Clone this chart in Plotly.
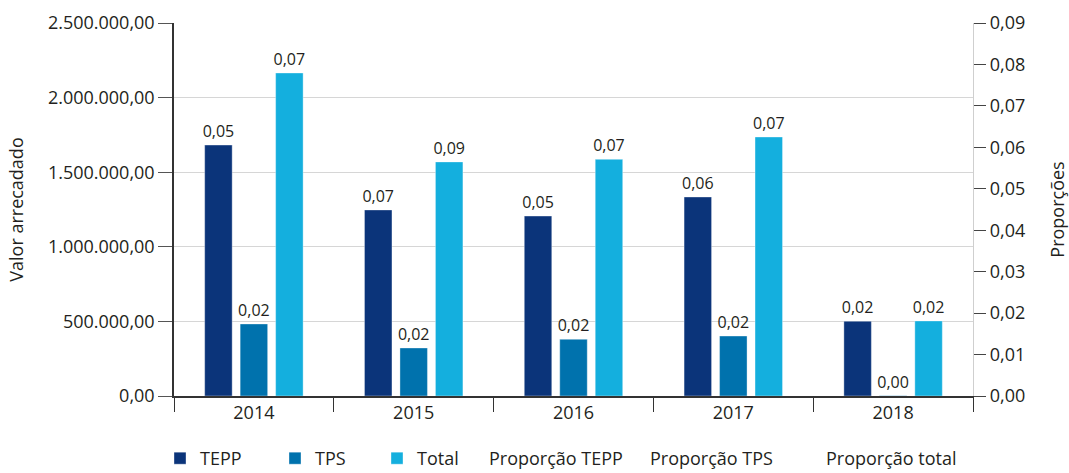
import plotly.graph_objects as go

# Dados: valor arrecadado por ano e proporções correspondentes
anos = ["2014", "2015", "2016", "2017", "2018"]
valor_tepp = [1682000, 1247000, 1206000, 1334000, 501000]
valor_tps = [483000, 322000, 380000, 402000, 2000]
valor_total = [2165000, 1569000, 1586000, 1736000, 503000]

prop_tepp = [0.05, 0.07, 0.05, 0.06, 0.02]
prop_tps = [0.02, 0.02, 0.02, 0.02, 0.00]
prop_total = [0.07, 0.09, 0.07, 0.07, 0.02]

left_ticks = [0, 500000, 1000000, 1500000, 2000000, 2500000]
right_ticks = [0, 0.01, 0.02, 0.03, 0.04, 0.05, 0.06, 0.07, 0.08, 0.09]

COR_TEPP = "#0b347a"
COR_TPS = "#0072ad"
COR_TOTAL = "#14afde"
TXT = "#231f20"
FONTE = "Open Sans"
FS = 18

# Margens da área de plotagem (px)
L, R, T, B = 174, 96, 23, 77
W, H = 1069, 473
PW = W - L - R
PH = H - T - B


def fmt(v):
    return f"{v:.2f}".replace(".", ",")


def lx(px):
    """Converte posição horizontal em px para coordenada de papel."""
    return (px - L) / PW


fig = go.Figure()

series = [
    ("TEPP", valor_tepp, prop_tepp, COR_TEPP, "legend", 160),
    ("TPS", valor_tps, prop_tps, COR_TPS, "legend2", 275),
    ("Total", valor_total, prop_total, COR_TOTAL, "legend3", 377),
]
for nome, vals, props, cor, leg, _ in series:
    fig.add_trace(go.Bar(
        x=anos, y=vals, name=nome, legend=leg,
        marker=dict(color=cor, line=dict(width=0.6, color="rgba(255,255,255,0.6)")),
        text=[fmt(p) for p in props], textposition="outside",
        textfont=dict(family=FONTE, size=16, color=TXT),
        constraintext="none", cliponaxis=False, textangle=0,
        hoverinfo="skip",
    ))

# Séries de proporção (eixo secundário, sem traço visível)
props_series = [
    ("Proporção TEPP", prop_tepp, "legend4", 449),
    ("Proporção TPS", prop_tps, "legend5", 610),
    ("Proporção total", prop_total, "legend6", 786),
]
for nome, vals, leg, _ in props_series:
    fig.add_trace(go.Scatter(
        x=anos, y=vals, name=nome, yaxis="y2", legend=leg,
        mode="lines", line=dict(width=0, color="rgba(0,0,0,0)"),
        hoverinfo="skip",
    ))

legend_pos = [s[5] for s in series] + [s[3] for s in props_series]
legend_keys = ["legend", "legend2", "legend3", "legend4", "legend5", "legend6"]
leg_y = -(440 - (H - B)) / PH
legend_layouts = {}
for key, px in zip(legend_keys, legend_pos):
    legend_layouts[key] = dict(
        x=lx(px), y=leg_y, xanchor="left", yanchor="top",
        orientation="h", bgcolor="rgba(0,0,0,0)", borderwidth=0,
        font=dict(family=FONTE, size=FS, color=TXT),
    )

fig.update_layout(
    width=W, height=H,
    margin=dict(l=L, r=R, t=T, b=B, pad=0, autoexpand=False),
    paper_bgcolor="white", plot_bgcolor="white",
    separators=",.",
    barmode="group", bargap=0.334, bargroupgap=0.225,
    font=dict(family=FONTE, size=FS, color=TXT),
    showlegend=True,
    xaxis=dict(
        type="category", showline=True, linecolor="#333", linewidth=1.5,
        ticks="outside", tickson="boundaries", ticklen=14, tickcolor="#333",
        tickwidth=1.2, showgrid=False,
        tickfont=dict(family=FONTE, size=FS, color=TXT),
    ),
    yaxis=dict(
        range=[0, 2500000], tickvals=left_ticks, tickformat=",.2f",
        showline=True, linecolor="#333", linewidth=1.5,
        ticks="outside", ticklen=14, tickcolor="#555", tickwidth=1.2,
        showgrid=True, gridcolor="#d6d6d6", gridwidth=1.2, zeroline=False,
        tickfont=dict(family=FONTE, size=FS, color=TXT),
        title=dict(text="Valor arrecadado", standoff=20,
                   font=dict(family=FONTE, size=FS, color=TXT)),
    ),
    yaxis2=dict(
        overlaying="y", side="right",
        range=[0, 0.09], tickvals=right_ticks, tickformat=".2f",
        showline=True, linecolor="#cfcfcf", linewidth=1.2,
        ticks="outside", ticklen=12, tickcolor="#444", tickwidth=1.2,
        showgrid=False, zeroline=False,
        tickfont=dict(family=FONTE, size=FS, color=TXT),
        title=dict(text="Proporções", standoff=36,
                   font=dict(family=FONTE, size=FS, color=TXT)),
    ),
    **legend_layouts,
)

fig.write_html("out.html")
